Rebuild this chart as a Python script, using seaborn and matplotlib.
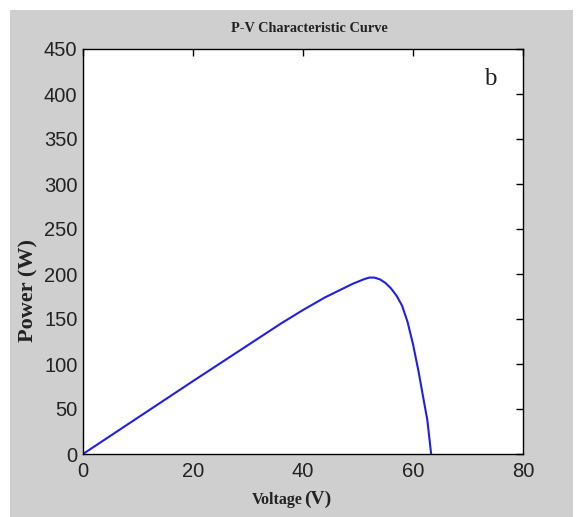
import matplotlib
matplotlib.use("Agg")
import matplotlib.pyplot as plt
from matplotlib.patches import Rectangle
import seaborn as sns
import pandas as pd

# PV module operating points: terminal voltage (V) and output power (W)
voltage = [0, 10, 20, 30, 36, 40, 44, 47, 49, 51, 52, 53, 54, 55, 56, 57, 58, 59, 60,
           61, 62, 62.6, 63.3]
power = [0, 40.5, 81, 121, 145, 160, 174, 183, 189, 194, 196, 196, 194, 190, 184, 176,
         165, 147, 122, 92, 58, 38, 0]

x_ticks = [0, 20, 40, 60, 80]
y_ticks = [0, 50, 100, 150, 200, 250, 300, 350, 400, 450]

df = pd.DataFrame({"Voltage": voltage, "Power": power})

sns.set_style("white")
plt.rcParams["font.family"] = ["Liberation Sans", "DejaVu Sans"]

W, H = 580, 517
fig = plt.figure(figsize=(W / 100, H / 100), dpi=100, facecolor="white")
# grey window panel behind the axes
fig.patches.append(Rectangle((10 / W, 0), 563 / W, 507 / H, transform=fig.transFigure,
                             facecolor="#cfcfcf", edgecolor="none", zorder=-10))

ax = fig.add_axes([83 / W, 63 / H, 440 / W, 405 / H])
ax.set_facecolor("white")

sns.lineplot(data=df, x="Voltage", y="Power", ax=ax, color="#1f1fe6", linewidth=1.5,
             estimator=None, sort=False)

ax.set_xlim(0, 80)
ax.set_ylim(0, 450)
ax.set_xticks(x_ticks)
ax.set_yticks(y_ticks)
ax.tick_params(direction="in", length=5, width=1, top=True, right=True,
               labelsize=14.5, colors="black")
ax.tick_params(axis="x", pad=6)
ax.tick_params(axis="y", pad=4)
for lab in ax.get_xticklabels() + ax.get_yticklabels():
    lab.set_color("#222222")
for s in ax.spines.values():
    s.set_visible(True)
    s.set_color("black")
    s.set_linewidth(1.0)

serif = ["Liberation Serif", "DejaVu Serif"]
ax.set_xlabel("")
ax.set_ylabel("")
fig.text(303 / W, 1 - 500 / H, "Voltage", family=serif, fontweight="bold",
         fontsize=11.5, ha="right", va="center", color="#222222")
fig.text(304 / W, 1 - 499 / H, "(V)", family=serif, fontweight="bold",
         fontsize=14, ha="left", va="center", color="#222222")
fig.text(28 / W, 1 - 290 / H, "Power (W)", family=serif, fontweight="bold",
         fontsize=16, ha="center", va="center", rotation=90, color="#222222")
fig.text(309 / W, 1 - 29 / H, "P-V Characteristic Curve", family=serif,
         fontweight="bold", fontsize=10.3, ha="center", va="center", color="#222222")
ax.text(0.925, 0.925, "b", transform=ax.transAxes, family=serif, fontsize=18,
        ha="center", va="center", color="#222222")

fig.savefig("out.png", dpi=100, facecolor="white")
